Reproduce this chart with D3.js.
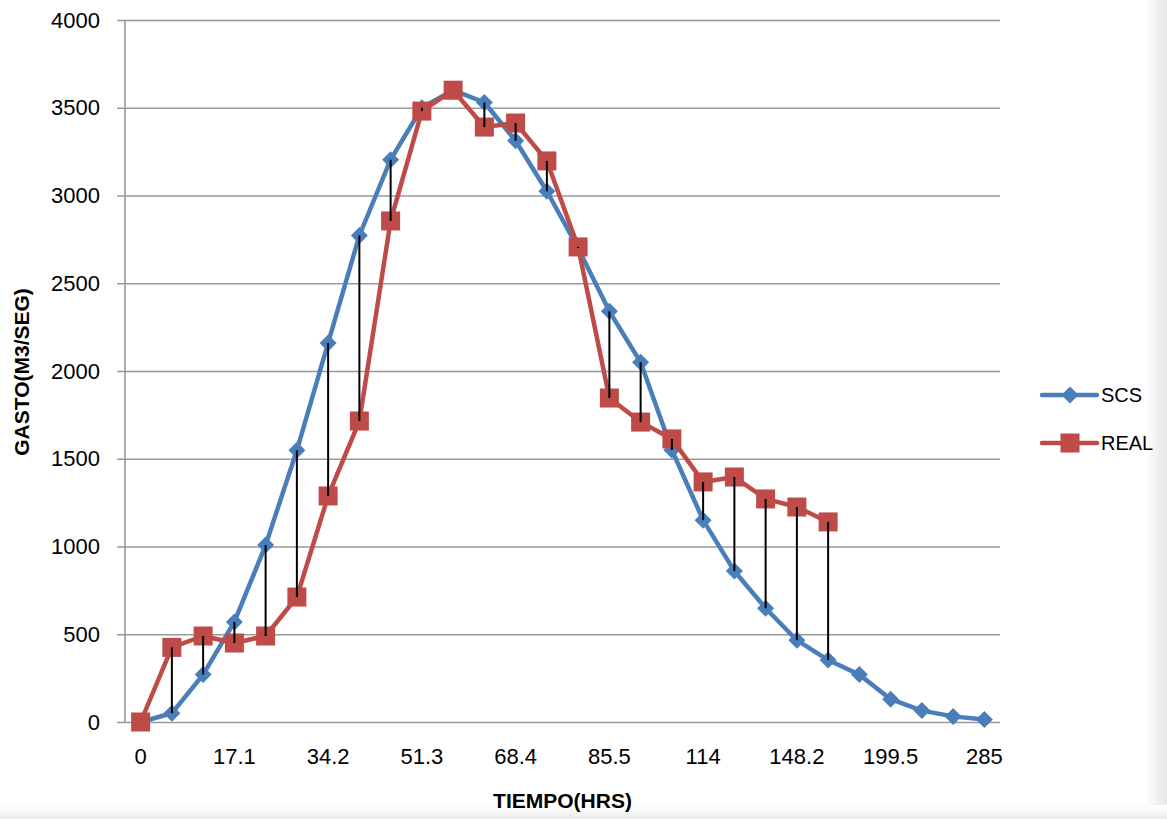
<!DOCTYPE html>
<html><head><meta charset="utf-8">
<script src="https://cdn.jsdelivr.net/npm/d3@7"></script>
<style>
html,body{margin:0;padding:0;background:#fff;}
svg{display:block;}
</style></head>
<body>
<script>
const categories = [0,5.7,11.4,17.1,22.8,28.5,34.2,39.9,45.6,51.3,57,62.7,68.4,74.1,79.8,85.5,91.2,102.6,114,125.4,136.8,148.2,159.6,171,199.5,228,256.5,285];
const scsValues = [0,50,270,570,1008,1548,2160,2772,3204,3500,3600,3530,3312,3024,2700,2340,2050,1550,1150,860,648,466,353,270,130,65,32,14];
const realValues = [0,425,490,450,490,712,1288,1715,2855,3481,3600,3390,3413,3197,2707,1846,1709,1613,1368,1396,1271,1225,1140];
const yTicks = [0,500,1000,1500,2000,2500,3000,3500,4000];
const labelEvery = 3;
const seriesNames = ["SCS","REAL"];
const colors = ["#4A7EBB","#BE4B48"];

const W = 1167, H = 819;
const m = {left:125, right:167, top:20, bottom:97};
const svg = d3.select("body").append("svg").attr("width",W).attr("height",H);
const FONT = "'Liberation Sans',Arial,sans-serif";

// subtle edge shading like the reference
const defs = svg.append("defs");
const gr = defs.append("linearGradient").attr("id","rg").attr("x1","0").attr("x2","1");
gr.append("stop").attr("offset","0").attr("stop-color","#fff");
gr.append("stop").attr("offset","1").attr("stop-color","#e6e6e6");
const gb = defs.append("linearGradient").attr("id","bg").attr("x1","0").attr("x2","0").attr("y1","0").attr("y2","1");
gb.append("stop").attr("offset","0").attr("stop-color","#fff");
gb.append("stop").attr("offset","1").attr("stop-color","#ececec");
svg.append("rect").attr("x",W-22).attr("y",0).attr("width",22).attr("height",H).attr("fill","url(#rg)");
svg.append("rect").attr("x",0).attr("y",H-14).attr("width",W).attr("height",14).attr("fill","url(#bg)");

const x = d3.scaleBand().domain(d3.range(categories.length)).range([m.left, W-m.right]);
const y = d3.scaleLinear().domain([0,4000]).range([H-m.bottom, m.top]);
const cx = i => x(i) + x.bandwidth()/2;

// gridlines
const yAxis = d3.axisLeft(y).tickValues(yTicks).tickSize(-(W-m.right-m.left)).tickFormat(d3.format("d")).tickPadding(25);
const gy = svg.append("g").attr("transform",`translate(${m.left},0)`).call(yAxis);
gy.select(".domain").remove();
gy.selectAll(".tick line").attr("stroke","#999").attr("stroke-width",1.6).attr("x1",-8);
gy.selectAll(".tick text").attr("font-family",FONT).attr("font-size",22).attr("fill","#000");

// y axis line
svg.append("line").attr("x1",m.left).attr("x2",m.left).attr("y1",m.top).attr("y2",H-m.bottom).attr("stroke","#999").attr("stroke-width",1.6);

// x axis labels
const xAxis = d3.axisBottom(x).tickValues(d3.range(0,categories.length,labelEvery)).tickFormat(i=>categories[i]).tickSize(0).tickPadding(26);
const gx = svg.append("g").attr("transform",`translate(0,${H-m.bottom})`).call(xAxis);
gx.select(".domain").remove();
gx.selectAll(".tick text").attr("font-family",FONT).attr("font-size",22).attr("fill","#000");

const n = Math.min(scsValues.length, realValues.length);
const line = d3.line().x((d,i)=>cx(i)).y(d=>y(d));
const diamond = s => `M0,${-s}L${s},0L0,${s}L${-s},0Z`;

// SCS series
svg.append("path").datum(scsValues).attr("d",line).attr("fill","none").attr("stroke",colors[0]).attr("stroke-width",4.5).attr("stroke-linejoin","round");
svg.append("g").selectAll("path").data(scsValues).join("path")
  .attr("transform",(d,i)=>`translate(${cx(i)},${y(d)})`).attr("d",diamond(8.5)).attr("fill",colors[0]);

// REAL series
svg.append("path").datum(realValues).attr("d",line).attr("fill","none").attr("stroke",colors[1]).attr("stroke-width",4.5).attr("stroke-linejoin","round");
svg.append("g").selectAll("rect").data(realValues).join("rect")
  .attr("x",(d,i)=>cx(i)-9.5).attr("y",d=>y(d)-9.5).attr("width",19).attr("height",19).attr("fill",colors[1]);

// high-low lines
svg.append("g").selectAll("line").data(d3.range(1,n)).join("line")
  .attr("x1",cx).attr("x2",cx)
  .attr("y1",i=>y(scsValues[i])).attr("y2",i=>y(realValues[i]))
  .attr("stroke","#000").attr("stroke-width",2);

// axis titles
svg.append("text").attr("x",(m.left+W-m.right)/2).attr("y",808).attr("text-anchor","middle")
  .attr("font-family",FONT).attr("font-weight","bold").attr("font-size",21).text("TIEMPO(HRS)");
svg.append("text").attr("transform",`translate(29,${372}) rotate(-90)`).attr("text-anchor","middle")
  .attr("font-family",FONT).attr("font-weight","bold").attr("font-size",21).text("GASTO(M3/SEG)");

// legend
const lg = svg.append("g").attr("transform","translate(1042,395)");
seriesNames.forEach((nm,k)=>{
  const g = lg.append("g").attr("transform",`translate(0,${k*48})`);
  g.append("line").attr("x1",0).attr("x2",55).attr("stroke",colors[k]).attr("stroke-width",4.5).attr("stroke-linecap","round");
  if(k===0) g.append("path").attr("transform","translate(28,0)").attr("d",diamond(8.5)).attr("fill",colors[k]);
  else g.append("rect").attr("x",18.5).attr("y",-9.5).attr("width",19).attr("height",19).attr("fill",colors[k]);
  g.append("text").attr("x",59).attr("y",0).attr("dy","0.36em").attr("font-family",FONT).attr("font-size",20).text(nm);
});
</script>
</body></html>
